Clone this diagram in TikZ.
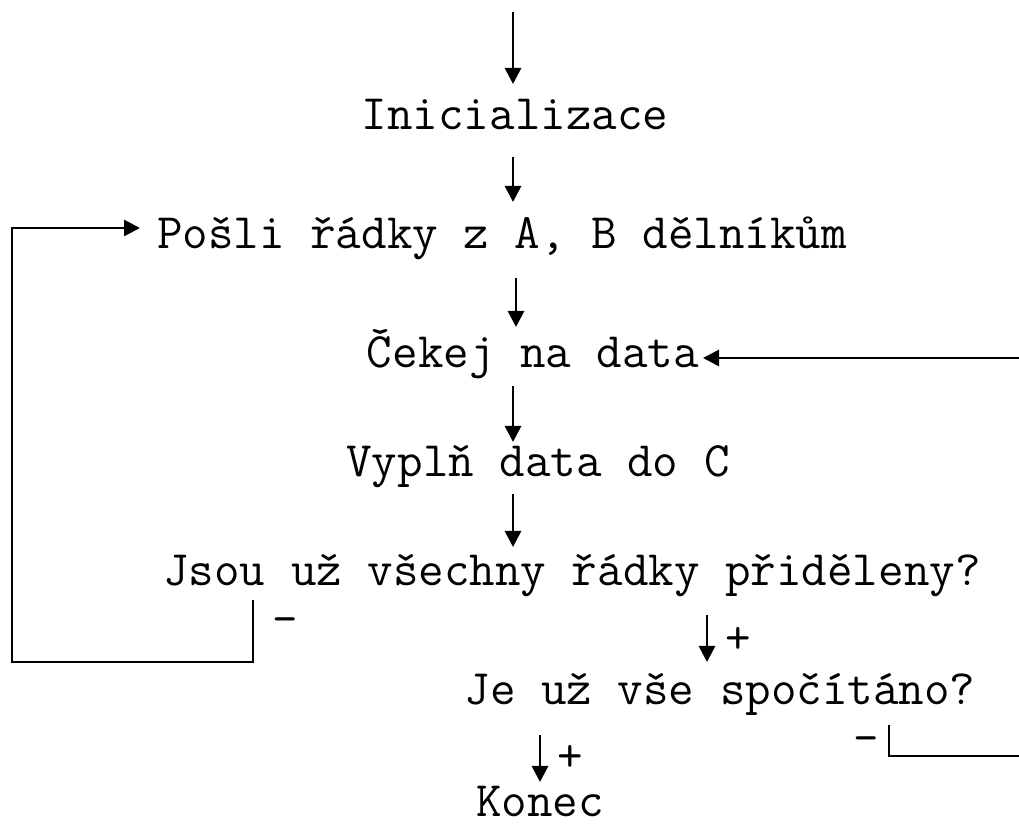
\documentclass[tikz,border=0pt]{standalone}
\usepackage{fontspec}
\usetikzlibrary{arrows.meta}
\begin{document}
\begin{tikzpicture}[x=0.5pt,y=-0.5pt,
  txt/.style={inner sep=0pt,anchor=base,font=\ttfamily\fontsize{24.8}{28}\selectfont},
  sgn/.style={inner sep=0pt,font=\ttfamily\fontsize{24.8}{28}\selectfont},
  conn/.style={line width=1.4pt,-{Triangle[length=8pt,width=8pt]}},
  wire/.style={line width=1.4pt}]
\useasboundingbox (0,0) rectangle (1019,828);
\clip (0,0) rectangle (1019,828);
\node[txt] (init) at (515,130) {Inicializace};
\node[txt] (posli) at (502,249) {Pošli řádky z A, B dělníkům};
\node[txt] (cekej) at (533,368) {Čekej na data};
\node[txt] (vypln) at (538,477) {Vyplň data do C};
\node[txt] (jsou) at (572,586) {Jsou už všechny řádky přiděleny?};
\node[txt] (je) at (720,705) {Je už vše spočítáno?};
\node[txt] (konec) at (540,817) {Konec};
\node[sgn] (p1) at (738,640) {+};
\node[sgn] (p2) at (570,758) {+};
\node[sgn] (m1) at (285,626) {-};
\node[sgn] (m2) at (866,745) {-};
\coordinate (s0) at (513,12);  \coordinate (e0) at (513,84);
\coordinate (s1) at (513,157); \coordinate (e1) at (513,202);
\coordinate (s2) at (516,278); \coordinate (e2) at (516,327);
\coordinate (s3) at (513,386); \coordinate (e3) at (513,442);
\coordinate (s4) at (513,494); \coordinate (e4) at (513,547);
\coordinate (s5) at (707,615); \coordinate (e5) at (707,662);
\coordinate (s6) at (540,735); \coordinate (e6) at (540,782);
\draw[conn] (s0) -- (e0);
\draw[conn] (s1) -- (e1);
\draw[conn] (s2) -- (e2);
\draw[conn] (s3) -- (e3);
\draw[conn] (s4) -- (e4);
\draw[conn] (s5) -- (e5);
\draw[conn] (s6) -- (e6);
\coordinate (l0) at (253,600);
\coordinate (l1) at (140,228);
\draw[conn] (l0) -- (253,662) -- (12,662) -- (12,228) -- (l1);
\coordinate (r0) at (889,725);
\coordinate (r1) at (703,358);
\draw[conn] (r0) -- (889,756) -- (1040,756) -- (1040,358) -- (r1);
\end{tikzpicture}
\end{document}
